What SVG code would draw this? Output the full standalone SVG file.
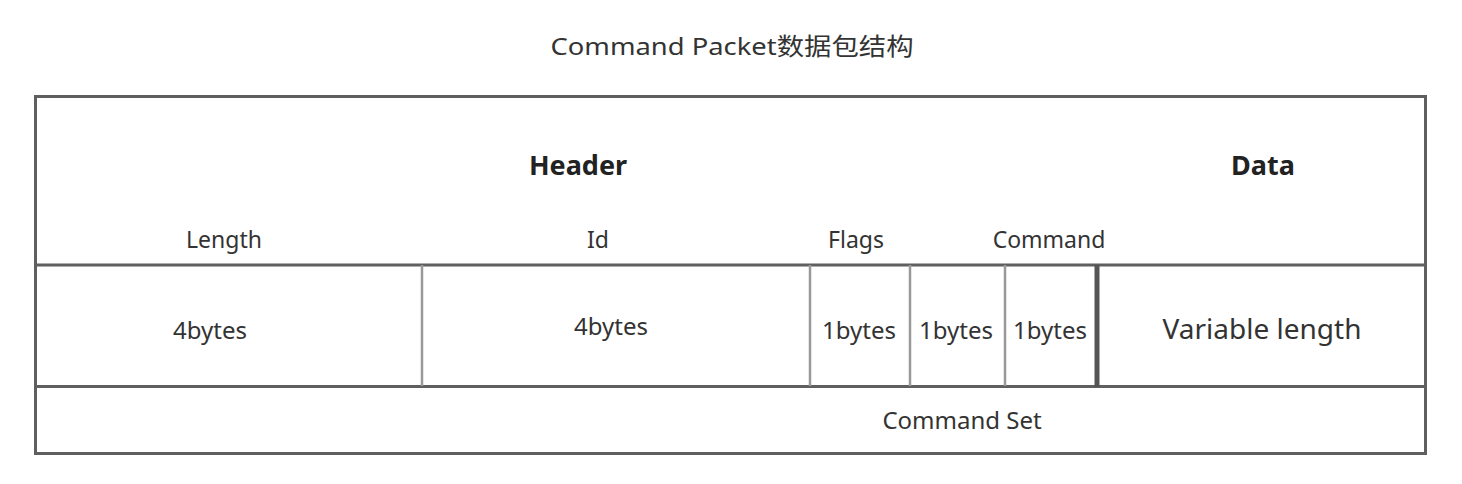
<svg xmlns="http://www.w3.org/2000/svg" width="1462" height="484" viewBox="0 0 1462 484">
<style>
text{font-family:"Noto Sans","Noto Sans CJK SC",sans-serif;fill:#333;text-anchor:middle}
.t{font-size:24px}
.h{font-size:27px;font-weight:bold;fill:#222}
.l{font-size:23px}
.b{font-size:24px}
.big{font-size:28px}
.frame{fill:none;stroke:#5f5f5f;stroke-width:3}
.div{stroke:#999;stroke-width:2.5}
.thick{stroke:#555;stroke-width:5}
</style>
<rect width="1462" height="484" fill="#fff"/>
<text class="t" x="732" y="55" textLength="363" lengthAdjust="spacingAndGlyphs">Command Packet数据包结构</text>
<g id="packet">
<rect class="frame" x="35.5" y="96.5" width="1390" height="357"/>
<line class="frame" x1="35" y1="265" x2="1426" y2="265"/>
<line class="frame" x1="35" y1="386.5" x2="1426" y2="386.5"/>
</g>
<g id="labels">
<text class="h" x="578" y="175">Header</text>
<text class="h" x="1263" y="175">Data</text>
<text class="l" x="224" y="248">Length</text>
<text class="l" x="598" y="248">Id</text>
<text class="l" x="856" y="248">Flags</text>
<text class="l" x="1049" y="248">Command</text>
</g>
<g id="length"><line class="div" x1="422" y1="265" x2="422" y2="386"/><text class="b" x="210" y="339">4bytes</text></g>
<g id="id"><line class="div" x1="810" y1="265" x2="810" y2="386"/><text class="b" x="611" y="335">4bytes</text></g>
<g id="flags"><line class="div" x1="910" y1="265" x2="910" y2="386"/><text class="b" x="859" y="339">1bytes</text></g>
<g id="cmdset"><line class="div" x1="1005" y1="265" x2="1005" y2="386"/><text class="b" x="956" y="339">1bytes</text></g>
<g id="command"><line class="thick" x1="1097" y1="265" x2="1097" y2="387"/><text class="b" x="1050" y="339">1bytes</text></g>
<g id="data"><text class="big" x="1262" y="339">Variable length</text></g>
<g id="commandset"><text class="b" x="962" y="429">Command Set</text></g>
<g id="connectors"></g>
</svg>
